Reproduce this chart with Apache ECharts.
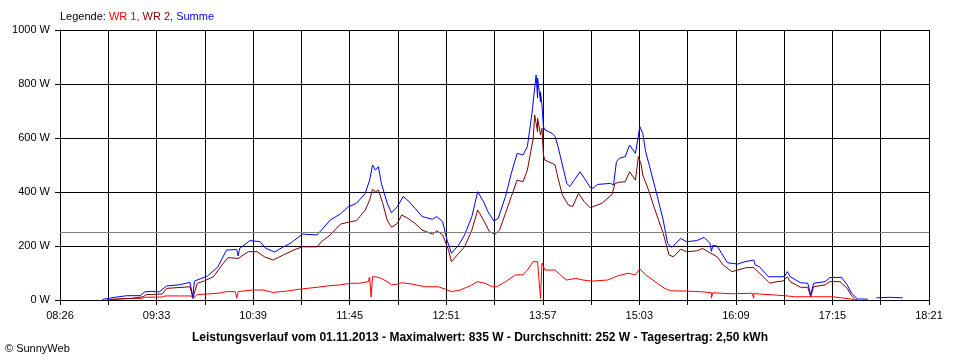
<!DOCTYPE html>
<html>
<head>
<meta charset="utf-8">
<script src="https://cdn.jsdelivr.net/npm/echarts@6/dist/echarts.min.js"></script>
<style>html,body{margin:0;padding:0;background:#fff}#c{width:960px;height:360px}</style>
</head>
<body>
<div id="c"></div>
<script>
// ---- data ----
const startTime = '08:26';
const endTime = '18:21';
const tickLabels = ['08:26','09:33','10:39','11:45','12:51','13:57','15:03','16:09','17:15','18:21'];
const yMax = 1000;
const yStep = 200;
const average = 252;

const wr1 = [['08:58',2],['09:16',6],['09:22',6],['09:24',10],['09:36',11],['09:38',15],['09:56',15],['09:57',5],['10:00',20],['10:14',25],['10:20',31],['10:26',31],['10:27',7],['10:28',31],['10:38',37],['10:45',37],['10:52',28],['11:01',33],['11:10',40],['11:22',47],['11:29',52],['11:38',56],['11:45',62],['11:51',62],['11:57',68],['11:58',85],['11:59',11],['12:00',86],['12:02',86],['12:06',80],['12:10',68],['12:13',56],['12:17',59],['12:20',64],['12:27',59],['12:36',49],['12:45',49],['12:50',40],['12:54',31],['13:00',37],['13:07',53],['13:12',68],['13:17',62],['13:22',49],['13:25',49],['13:31',68],['13:38',93],['13:43',93],['13:46',111],['13:50',142],['13:51',148],['13:53',142],['13:55',6],['13:56',136],['13:58',111],['14:05',111],['14:10',86],['14:13',74],['14:19',80],['14:24',74],['14:30',70],['14:41',74],['14:48',90],['14:55',99],['15:00',93],['15:03',115],['15:07',93],['15:12',74],['15:15',62],['15:20',43],['15:24',34],['15:35',33],['15:44',31],['15:52',27],['15:52',7],['15:53',27],['15:59',25],['16:07',23],['16:20',25],['16:21',7],['16:21',24],['16:25',22],['16:34',19],['16:42',16],['16:49',12],['17:15',12],['17:21',8],['17:27',4],['17:30',0]];

const wr2 = [['08:59',0],['09:07',4],['09:15',6],['09:23',12],['09:25',20],['09:36',22],['09:39',43],['09:55',49],['09:57',7],['10:00',62],['10:05',71],['10:11',86],['10:17',130],['10:21',157],['10:28',154],['10:35',179],['10:41',179],['10:46',160],['10:52',148],['10:59',167],['11:06',185],['11:12',197],['11:22',197],['11:25',216],['11:31',241],['11:38',281],['11:45',290],['11:49',294],['11:55',333],['11:58',370],['12:00',410],['12:02',401],['12:04',407],['12:07',358],['12:10',296],['12:13',269],['12:17',284],['12:20',315],['12:24',303],['12:29',284],['12:34',259],['12:41',244],['12:44',256],['12:48',241],['12:52',185],['12:54',142],['12:59',173],['13:03',197],['13:08',259],['13:12',333],['13:16',296],['13:20',253],['13:24',244],['13:27',259],['13:31',321],['13:35',383],['13:39',444],['13:43',438],['13:46',481],['13:50',599],['13:51',685],['13:53',623],['13:53',673],['13:55',611],['13:56',636],['13:57',537],['13:58',518],['14:03',506],['14:05',500],['14:07',451],['14:10',389],['14:14',352],['14:17',346],['14:21',395],['14:25',364],['14:29',342],['14:31',346],['14:37',358],['14:44',391],['14:46',432],['14:49',436],['14:53',438],['14:56',475],['15:00',444],['15:02',531],['15:04',500],['15:05',463],['15:09',407],['15:13',340],['15:19',247],['15:23',167],['15:26',160],['15:31',188],['15:35',179],['15:42',182],['15:46',191],['15:51',175],['15:56',160],['16:00',130],['16:06',105],['16:10',111],['16:16',120],['16:21',120],['16:25',99],['16:32',62],['16:37',68],['16:41',70],['16:44',86],['16:46',68],['16:53',47],['16:58',47],['17:00',12],['17:02',49],['17:10',56],['17:13',68],['17:20',68],['17:25',43],['17:28',16],['17:30',4],['17:32',0]];

const summe = [['08:55',2],['09:00',7],['09:06',12],['09:12',16],['09:21',16],['09:24',30],['09:28',32],['09:34',30],['09:39',52],['09:47',56],['09:55',65],['09:56',63],['09:57',11],['09:58',70],['10:07',89],['10:14',122],['10:20',185],['10:27',187],['10:28',163],['10:29',191],['10:36',220],['10:43',216],['10:47',191],['10:53',178],['10:59',197],['11:04',211],['11:12',244],['11:22',241],['11:25',259],['11:31',296],['11:38',319],['11:43',344],['11:49',358],['11:55',395],['11:58',444],['12:00',500],['12:02',481],['12:04',494],['12:06',433],['12:10',359],['12:13',323],['12:17',346],['12:21',383],['12:24',370],['12:29',340],['12:34',309],['12:41',299],['12:44',309],['12:48',290],['12:51',222],['12:54',173],['12:59',204],['13:03',241],['13:08',309],['13:12',401],['13:16',364],['13:19',327],['13:23',293],['13:26',302],['13:31',383],['13:35',469],['13:39',543],['13:43',537],['13:46',568],['13:49',685],['13:51',785],['13:52',833],['13:53',748],['13:53',822],['13:55',734],['13:55',771],['13:56',722],['13:57',642],['13:58',630],['14:03',617],['14:05',605],['14:07',568],['14:10',500],['14:13',432],['14:15',420],['14:19',451],['14:22',475],['14:25',451],['14:29',417],['14:31',414],['14:34',428],['14:43',432],['14:45',426],['14:47',512],['14:49',525],['14:53',531],['14:56',574],['15:00',543],['15:03',642],['15:05',617],['15:07',549],['15:10',489],['15:15',383],['15:19',296],['15:22',210],['15:25',195],['15:31',228],['15:35',216],['15:42',220],['15:47',232],['15:51',210],['15:52',180],['15:53',202],['15:56',200],['15:59',173],['16:03',138],['16:10',133],['16:15',142],['16:21',148],['16:22',130],['16:25',123],['16:31',86],['16:39',86],['16:42',87],['16:44',105],['16:46',86],['16:53',64],['16:58',62],['17:00',19],['17:02',62],['17:10',68],['17:13',83],['17:21',84],['17:25',56],['17:28',25],['17:32',4],['17:39',3],['17:42',null],['17:45',8],['17:54',10],['18:03',8]];

const legendParts = ['Legende: ', 'WR 1, ', 'WR 2, ', 'Summe'];
const bottomTitle = 'Leistungsverlauf vom 01.11.2013 - Maximalwert: 835 W - Durchschnitt: 252 W - Tagesertrag: 2,50 kWh';
const copyright = '\u00A9 SunnyWeb';

// ---- build ----
function toMin(s){ const p = s.split(':').map(Number); return p[0]*60 + p[1]; }
const t0 = toMin(startTime);
const span = toMin(endTime) - t0;
const step = span / 18;
const conv = arr => arr.map(d => [toMin(d[0]) - t0, d[1]]);

const FONT = '"Liberation Sans", Arial, sans-serif';
const chart = echarts.init(document.getElementById('c'), null, {renderer: 'canvas'});
const lineSeries = (name, data, color, extra) => Object.assign({
  name, type: 'line', data: conv(data), showSymbol: false, symbol: 'none',
  connectNulls: false, animation: false, silent: true,
  lineStyle: {color, width: 1}, itemStyle: {color}
}, extra || {});

chart.setOption({
  animation: false,
  backgroundColor: '#fff',
  textStyle: {fontFamily: FONT, fontSize: 11, color: '#000'},
  grid: {left: 60, right: 31, top: 30, bottom: 60, containLabel: false},
  xAxis: {
    type: 'value', min: 0, max: span, interval: step,
    axisLine: {show: true, lineStyle: {color: '#000', width: 1}},
    axisTick: {show: true, length: 5, lineStyle: {color: '#000', width: 1}},
    splitLine: {show: true, lineStyle: {color: '#000', width: 1}},
    axisLabel: {
      show: true, interval: 0, margin: 10, color: '#000', fontFamily: FONT, fontSize: 11,
      showMinLabel: true, showMaxLabel: true,
      formatter: v => { const i = Math.round(v / step); return i % 2 === 0 ? tickLabels[i / 2] : ''; }
    }
  },
  yAxis: {
    type: 'value', min: 0, max: yMax, interval: yStep,
    axisLine: {show: true, lineStyle: {color: '#000', width: 1}},
    axisTick: {show: true, length: 5, lineStyle: {color: '#000', width: 1}},
    splitLine: {show: true, lineStyle: {color: '#000', width: 1}},
    axisLabel: {margin: 10, color: '#000', fontFamily: FONT, fontSize: 11, formatter: v => v + ' W'}
  },
  series: [
    lineSeries('WR 1', wr1, '#ff0000', {
      markLine: {silent: true, symbol: 'none', animation: false,
        label: {show: false}, lineStyle: {color: '#808080', type: 'solid', width: 1},
        data: [{yAxis: average}]}
    }),
    lineSeries('WR 2', wr2, '#800000'),
    lineSeries('Summe', summe, '#0000ff')
  ],
  graphic: [
    {type: 'text', x: 60, y: 17, silent: true, style: {
      text: '{k|' + legendParts[0] + '}{r|' + legendParts[1] + '}{d|' + legendParts[2] + '}{b|' + legendParts[3] + '}',
      font: '11px ' + FONT, verticalAlign: 'middle', align: 'left',
      rich: {
        k: {fill: '#000', color: '#000', fontSize: 11, fontFamily: FONT},
        r: {fill: '#ff0000', color: '#ff0000', fontSize: 11, fontFamily: FONT},
        d: {fill: '#800000', color: '#800000', fontSize: 11, fontFamily: FONT},
        b: {fill: '#0000ff', color: '#0000ff', fontSize: 11, fontFamily: FONT}
      }
    }},
    {type: 'text', x: 480, y: 338, silent: true, style: {
      text: bottomTitle, font: 'bold 12px ' + FONT, fill: '#000', align: 'center', verticalAlign: 'middle'
    }},
    {type: 'text', x: 5, y: 349, silent: true, style: {
      text: copyright, font: '11px ' + FONT, fill: '#000', align: 'left', verticalAlign: 'middle'
    }}
  ]
});
</script>
</body>
</html>
